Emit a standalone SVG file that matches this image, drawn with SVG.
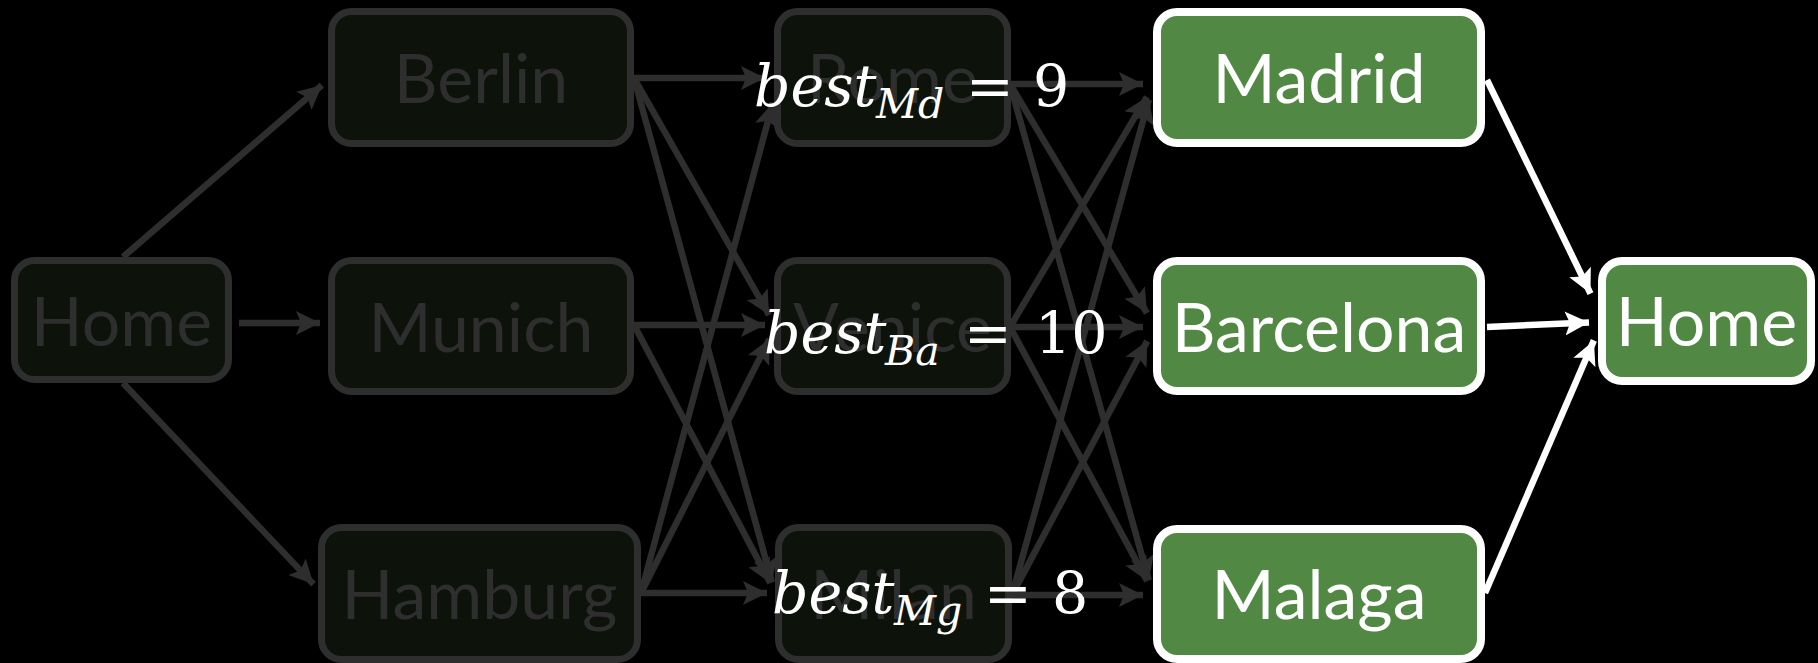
<svg xmlns="http://www.w3.org/2000/svg" width="1818" height="663" viewBox="0 0 1818 663">
  <style>
    .dim rect { fill: #0d130b; stroke: #2e2e2e; stroke-width: 7; }
    .dim text { fill: #2e2e2e; }
    .hot rect { fill: #518843; stroke: #ffffff; stroke-width: 8; }
    .hot text { fill: #ffffff; }
    .label { font-family: Lato, "Open Sans", sans-serif; font-size: 68px; text-anchor: middle; }
    .edge { fill: none; stroke-width: 6.5; }
    .edge.dim-e { stroke: #2e2e2e; marker-end: url(#headDim); }
    .edge.hot-e { stroke: #ffffff; marker-end: url(#headHot); }
    .math { font-family: "DejaVu Serif", serif; fill: #ffffff; }
    .v { font-style: italic; font-size: 57px; }
    .sub { font-style: italic; font-size: 41px; }
    .op { font-size: 57px; }
  </style>
  <defs>
    <marker id="headDim" markerUnits="userSpaceOnUse" markerWidth="24" markerHeight="24" refX="24" refY="12" orient="auto" viewBox="0 0 24 24">
      <path d="M0,0 L24,12 L0,24 L5,12 z" fill="#2e2e2e"/>
    </marker>
    <marker id="headHot" markerUnits="userSpaceOnUse" markerWidth="24" markerHeight="24" refX="24" refY="12" orient="auto" viewBox="0 0 24 24">
      <path d="M0,0 L24,12 L0,24 L5,12 z" fill="#ffffff"/>
    </marker>
  </defs>
  <rect width="1818" height="663" fill="#000000"/>

  <!-- connectors -->
  <g id="connectors">
    <path class="edge dim-e" d="M123,257 L321.9,85.2"/>
    <path class="edge dim-e" d="M239,323 L320,323"/>
    <path class="edge dim-e" d="M123,383 L313.5,584.2"/>

    <path class="edge dim-e" d="M634,78 L765,78"/>
    <path class="edge dim-e" d="M634,78 L769.1,315"/>
    <path class="edge dim-e" d="M634,78 L771.9,582.3"/>
    <path class="edge dim-e" d="M634,325 L765,325"/>
    <path class="edge dim-e" d="M634,325 L770.3,582.9"/>
    <path class="edge dim-e" d="M641,593 L772.9,102.7"/>
    <path class="edge dim-e" d="M641,593 L769.4,339.1"/>
    <path class="edge dim-e" d="M641,593 L767,593"/>

    <path class="edge dim-e" d="M1010,84 L1143,84"/>
    <path class="edge dim-e" d="M1010,84 L1146.9,313.1"/>
    <path class="edge dim-e" d="M1010,84 L1148.8,580.3"/>
    <path class="edge dim-e" d="M1010,327 L1146.9,96.9"/>
    <path class="edge dim-e" d="M1010,327 L1143,327"/>
    <path class="edge dim-e" d="M1010,327 L1147.2,581"/>
    <path class="edge dim-e" d="M1012,595 L1148.9,99.7"/>
    <path class="edge dim-e" d="M1012,595 L1147.2,341.1"/>
    <path class="edge dim-e" d="M1012,595 L1143,595"/>

    <path class="edge hot-e" d="M1487,80 L1590.5,293.6"/>
    <path class="edge hot-e" d="M1487,327 L1589,322.4"/>
    <path class="edge hot-e" d="M1485,593 L1593.9,340.4"/>
  </g>

  <!-- first leg -->
  <g id="home-start" class="dim">
    <rect x="14.5" y="260.5" width="214" height="119" rx="20"/>
    <text class="label" x="121.5" y="346">Home</text>
  </g>
  <g id="berlin" class="dim">
    <rect x="331.5" y="11.5" width="299" height="132" rx="20"/>
    <text class="label" x="481" y="103">Berlin</text>
  </g>
  <g id="munich" class="dim">
    <rect x="331.5" y="260.5" width="299" height="131" rx="20"/>
    <text class="label" x="481" y="352">Munich</text>
  </g>
  <g id="hamburg" class="dim">
    <rect x="321.5" y="527.5" width="316" height="132" rx="20"/>
    <text class="label" x="479.5" y="619">Hamburg</text>
  </g>

  <!-- second leg -->
  <g id="rome" class="dim">
    <rect x="777.5" y="11.5" width="230" height="132" rx="20"/>
    <text class="label" x="892.5" y="103">Rome</text>
  </g>
  <g id="venice" class="dim">
    <rect x="777.5" y="260.5" width="230" height="131" rx="20"/>
    <text class="label" x="892.5" y="352">Venice</text>
  </g>
  <g id="milan" class="dim">
    <rect x="778.5" y="527.5" width="230" height="132" rx="20"/>
    <text class="label" x="893.5" y="619">Milan</text>
  </g>

  <!-- third leg -->
  <g id="madrid" class="hot">
    <rect x="1157" y="12" width="324" height="131" rx="20"/>
    <text class="label" x="1319" y="103">Madrid</text>
  </g>
  <g id="barcelona" class="hot">
    <rect x="1157" y="261" width="324" height="130" rx="20"/>
    <text class="label" x="1319" y="352">Barcelona</text>
  </g>
  <g id="malaga" class="hot">
    <rect x="1157" y="529" width="324" height="130" rx="20"/>
    <text class="label" x="1319" y="619">Malaga</text>
  </g>

  <!-- return -->
  <g id="home-end" class="hot">
    <rect x="1602" y="261" width="209" height="120" rx="20"/>
    <text class="label" x="1706.5" y="346">Home</text>
  </g>

  <!-- best-cost annotations -->
  <g id="best-md" class="math">
    <text class="v" x="754" y="106">best</text>
    <text class="sub" x="876" y="118">Md</text>
    <text class="op" x="990" y="106" text-anchor="middle">=</text>
    <text class="op" x="1033" y="106">9</text>
  </g>
  <g id="best-ba" class="math">
    <text class="v" x="764" y="353">best</text>
    <text class="sub" x="885" y="365">Ba</text>
    <text class="op" x="988" y="353" text-anchor="middle">=</text>
    <text class="op" x="1035" y="353">10</text>
  </g>
  <g id="best-mg" class="math">
    <text class="v" x="772" y="613">best</text>
    <text class="sub" x="894" y="625">Mg</text>
    <text class="op" x="1008" y="613" text-anchor="middle">=</text>
    <text class="op" x="1052" y="613">8</text>
  </g>
</svg>
